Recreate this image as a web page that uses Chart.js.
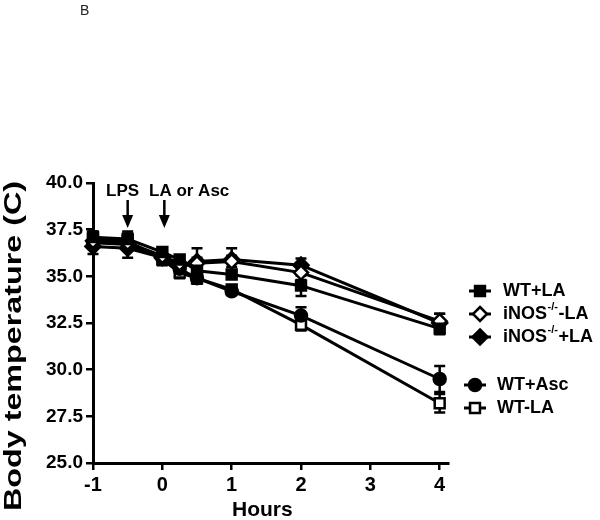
<!DOCTYPE html>
<html>
<head>
<meta charset="utf-8">
<script src="https://cdn.jsdelivr.net/npm/chart.js@4.4.0/dist/chart.umd.min.js"></script>
<style>
  html, body { margin: 0; background: #fff; }
  #wrap { width: 600px; height: 520px; position: relative; }
</style>
</head>
<body>
<div id="wrap"><canvas id="grafico"></canvas></div>
<script>
// horas e valores
const hours = [-1, -0.5, 0, 0.25, 0.5, 1, 2, 4];
const xTicks = [-1, 0, 1, 2, 3, 4];
const yTicks = [25, 27.5, 30, 32.5, 35, 37.5, 40];

const wtLA = [37.1, 37.0, 36.3, 35.9, 35.3, 35.1, 34.5, 32.2];
const wtLAErr = [0.3, 0.4, 0.2, 0.2, 0.2, 0.2, 0.55, 0.3];

const inosMinusLA = [36.9, 36.8, 36.1, 35.7, 35.7, 35.8, 35.2, 32.6];
const inosMinusLAErr = [0.3, 0.3, 0.2, 0.2, 0.3, 0.3, 0.4, 0.4];

const inosPlusLA = [36.6, 36.5, 36.0, 35.6, 35.8, 35.9, 35.6, 32.5];
const inosPlusLAErr = [0.4, 0.5, 0.2, 0.2, 0.7, 0.6, 0.35, 0.5];

const wtAsc = [36.8, 36.7, 36.0, 35.4, 34.9, 34.2, 32.9, 29.5];
const wtAscErr = [0.3, 0.3, 0.2, 0.3, 0.3, 0.2, 0.45, 0.7];

const wtMinusLA = [37.0, 36.9, 35.9, 35.2, 34.9, 34.3, 32.4, 28.2];
const wtMinusLAErr = [0.4, 0.4, 0.3, 0.3, 0.2, 0.2, 0.3, 0.5];

const arrowHours = [-0.5, 0];

const FONT = '"Liberation Sans", Arial, sans-serif';

function toPoints(vals) {
    return hours.map((h, i) => ({ x: h, y: vals[i] }));
}

function serie(label, vals, err, style, filled, radius) {
    return {
        label: label,
        data: toPoints(vals),
        errors: err,
        borderColor: '#000',
        borderWidth: 3,
        pointStyle: style,
        pointRadius: radius,
        pointHoverRadius: radius,
        pointBackgroundColor: filled ? '#000' : '#fff',
        pointBorderColor: '#000',
        pointBorderWidth: 2.5,
        tension: 0,
        fill: false,
        clip: false,
        mark: { style: style, filled: filled, radius: radius }
    };
}

const datasets = [
    serie('WT+LA', wtLA, wtLAErr, 'rect', true, 7),
    serie('iNOS-/--LA', inosMinusLA, inosMinusLAErr, 'rectRot', false, 7),
    serie('iNOS-/-+LA', inosPlusLA, inosPlusLAErr, 'rectRot', true, 7.5),
    serie('WT+Asc', wtAsc, wtAscErr, 'circle', true, 6),
    serie('WT-LA', wtMinusLA, wtMinusLAErr, 'rect', false, 7)
];

// legenda: texto, sobrescrito, resto
const legendItems = [
    { ds: 0, pre: 'WT+LA', sup: '', post: '', x: 480, tx: 503, y: 291 },
    { ds: 1, pre: 'iNOS', sup: '-/-', post: '-LA', x: 480, tx: 503, y: 314 },
    { ds: 2, pre: 'iNOS', sup: '-/-', post: '+LA', x: 480, tx: 503, y: 337 },
    { ds: 3, pre: 'WT+Asc', sup: '', post: '', x: 475, tx: 497, y: 385 },
    { ds: 4, pre: 'WT-LA', sup: '', post: '', x: 475, tx: 497, y: 408 }
];

function drawMarker(ctx, m, x, y) {
    const r = m.radius;
    ctx.beginPath();
    if (m.style === 'rect') {
        const s = r * Math.SQRT1_2;
        ctx.rect(x - s, y - s, 2 * s, 2 * s);
    } else if (m.style === 'rectRot') {
        ctx.moveTo(x, y - r);
        ctx.lineTo(x + r, y);
        ctx.lineTo(x, y + r);
        ctx.lineTo(x - r, y);
        ctx.closePath();
    } else {
        ctx.arc(x, y, r, 0, Math.PI * 2);
    }
    ctx.fillStyle = m.filled ? '#000' : '#fff';
    ctx.fill();
    ctx.lineWidth = 2.5;
    ctx.strokeStyle = '#000';
    ctx.stroke();
}

const errorBars = {
    id: 'errorBars',
    beforeDatasetsDraw(chart) {
        const ctx = chart.ctx;
        const xs = chart.scales.x, ys = chart.scales.y;
        ctx.save();
        ctx.strokeStyle = '#000';
        ctx.lineWidth = 2.5;
        chart.data.datasets.forEach(ds => {
            ds.data.forEach((p, i) => {
                const e = ds.errors[i];
                const px = xs.getPixelForValue(p.x);
                const top = ys.getPixelForValue(p.y + e);
                const bot = ys.getPixelForValue(p.y - e);
                ctx.beginPath();
                ctx.moveTo(px, top); ctx.lineTo(px, bot);
                ctx.moveTo(px - 5.5, top); ctx.lineTo(px + 5.5, top);
                ctx.moveTo(px - 5.5, bot); ctx.lineTo(px + 5.5, bot);
                ctx.stroke();
            });
        });
        ctx.restore();
    }
};

const extras = {
    id: 'extras',
    afterDraw(chart) {
        const ctx = chart.ctx;
        const xs = chart.scales.x;
        ctx.save();
        ctx.fillStyle = '#000';

        // letra do painel
        ctx.font = '14px ' + FONT;
        ctx.fillStyle = '#222';
        ctx.textBaseline = 'alphabetic';
        ctx.fillText('B', 80, 15);
        ctx.fillStyle = '#000';

        // setas LPS / LA or Asc
        ctx.font = 'bold 17px ' + FONT;
        ctx.textAlign = 'left';
        ctx.fillText('LPS', 106, 196);
        ctx.fillText('LA or Asc', 149, 196);
        arrowHours.forEach(h => {
            const px = xs.getPixelForValue(h) + (h === 0 ? 2 : 0);
            ctx.lineWidth = 2.5;
            ctx.beginPath();
            ctx.moveTo(px, 200); ctx.lineTo(px, 216);
            ctx.stroke();
            ctx.beginPath();
            ctx.moveTo(px - 5.5, 215); ctx.lineTo(px + 5.5, 215); ctx.lineTo(px, 228);
            ctx.closePath();
            ctx.fill();
        });

        // titulo eixo y (esticado como no original)
        ctx.save();
        ctx.translate(14, 346);
        ctx.rotate(-Math.PI / 2);
        ctx.font = 'bold 24px ' + FONT;
        const t = 'Body temperature (C)';
        const w = ctx.measureText(t).width;
        ctx.scale(330 / w, 1);
        ctx.textAlign = 'center';
        ctx.textBaseline = 'middle';
        ctx.fillText(t, 0, 0);
        ctx.restore();

        // titulo eixo x
        ctx.font = 'bold 21px ' + FONT;
        ctx.textAlign = 'center';
        ctx.textBaseline = 'middle';
        ctx.fillText('Hours', xs.getPixelForValue(1.5) - 4, 510);

        // legenda
        legendItems.forEach(it => {
            const ds = chart.data.datasets[it.ds];
            ctx.lineWidth = 3;
            ctx.strokeStyle = '#000';
            ctx.beginPath();
            ctx.moveTo(it.x - 11, it.y); ctx.lineTo(it.x + 11, it.y);
            ctx.stroke();
            drawMarker(ctx, ds.mark, it.x, it.y);
            ctx.fillStyle = '#000';
            ctx.textAlign = 'left';
            ctx.textBaseline = 'middle';
            ctx.font = 'bold 18px ' + FONT;
            let x = it.tx;
            ctx.fillText(it.pre, x, it.y);
            x += ctx.measureText(it.pre).width;
            if (it.sup) {
                ctx.font = 'bold 11px ' + FONT;
                ctx.fillText(it.sup, x + 0.5, it.y - 7);
                x += ctx.measureText(it.sup).width + 1;
                ctx.font = 'bold 18px ' + FONT;
                ctx.fillText(it.post, x, it.y);
            }
        });
        ctx.restore();
    }
};

const grafico = document.querySelector('#grafico');
new Chart(grafico, {
    type: 'line',
    data: { datasets: datasets },
    options: {
        responsive: true,
        maintainAspectRatio: false,
        animation: false,
        events: [],
        layout: { padding: { left: 0, top: 183, right: 152, bottom: 0 } },
        plugins: {
            legend: { display: false },
            tooltip: { enabled: false },
            title: { display: false }
        },
        scales: {
            x: {
                type: 'linear',
                min: -1,
                max: 4.12,
                afterBuildTicks: s => { s.ticks = xTicks.map(v => ({ value: v })); },
                afterFit: s => { s.height = 57; },
                grid: { drawOnChartArea: false, drawTicks: true, tickLength: 7, color: '#000', lineWidth: 2.5 },
                border: { display: true, color: '#000', width: 3 },
                ticks: {
                    color: '#000',
                    padding: 3,
                    maxRotation: 0,
                    font: { family: FONT, size: 20, weight: 'bold' },
                    callback: v => String(v)
                }
            },
            y: {
                type: 'linear',
                min: 25,
                max: 40,
                afterBuildTicks: s => { s.ticks = yTicks.map(v => ({ value: v })); },
                afterFit: s => { s.width = 93; },
                grid: { drawOnChartArea: false, drawTicks: true, tickLength: 7, color: '#000', lineWidth: 2.5 },
                border: { display: true, color: '#000', width: 3 },
                ticks: {
                    color: '#000',
                    padding: 3,
                    font: { family: FONT, size: 19, weight: 'bold' },
                    callback: v => v.toFixed(1)
                }
            }
        }
    },
    plugins: [errorBars, extras]
});
</script>
</body>
</html>
